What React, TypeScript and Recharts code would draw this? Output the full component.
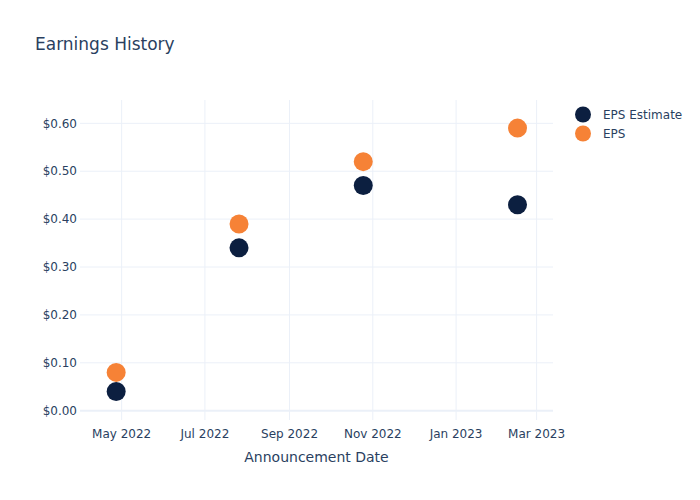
import React from "react";
import { ScatterChart, Scatter, XAxis, YAxis, ReferenceLine } from "recharts";

const dates = ["2022-04-27", "2022-07-26", "2022-10-25", "2023-02-15"];
const epsEstimate = [0.04, 0.34, 0.47, 0.43];
const eps = [0.08, 0.39, 0.52, 0.59];
const xTickDates = ["2022-05-01", "2022-07-01", "2022-09-01", "2022-11-01", "2023-01-01", "2023-03-01"];
const yTicks = [0, 0.1, 0.2, 0.3, 0.4, 0.5, 0.6];

const MONTHS = ["Jan", "Feb", "Mar", "Apr", "May", "Jun", "Jul", "Aug", "Sep", "Oct", "Nov", "Dec"];
const ts = (d: string) => Date.parse(d + "T00:00:00Z");
const fmtDate = (t: number) => {
  const d = new Date(t);
  return `${MONTHS[d.getUTCMonth()]} ${d.getUTCFullYear()}`;
};

const estimateData = dates.map((d, i) => ({ x: ts(d), y: epsEstimate[i] }));
const epsData = dates.map((d, i) => ({ x: ts(d), y: eps[i] }));
const xTicks = xTickDates.map(ts);
const xDomain = [ts("2022-03-31") + 12 * 3600 * 1000, ts("2023-03-13")];

const NAVY = "#0c1f40";
const ORANGE = "#f68236";
const TEXT = "#2a3f5f";
const GRID = "#ebf0f8";
const FONT = "'DejaVu Sans', Verdana, Arial, sans-serif";

const dot = (color: string) => (props: any) => (
  <circle cx={props.cx} cy={props.cy} r={9.5} fill={color} />
);

const legendItems = [
  { name: "EPS Estimate", color: NAVY },
  { name: "EPS", color: ORANGE },
];

function LegendBox() {
  return (
    <div style={{ position: "absolute", left: 573, top: 105, fontFamily: FONT, fontSize: 12, color: TEXT }}>
      {legendItems.map((it) => (
        <div key={it.name} style={{ display: "flex", alignItems: "center", height: 19 }}>
          <svg width={20} height={19}>
            <circle cx={10} cy={9.5} r={8} fill={it.color} />
          </svg>
          <span style={{ marginLeft: 10 }}>{it.name}</span>
        </div>
      ))}
    </div>
  );
}

export default function App() {
  return (
    <div style={{ position: "absolute", left: 0, top: 0, width: 700, height: 500, background: "#fff" }}>
      <div
        style={{
          position: "absolute",
          left: 35,
          top: 34,
          fontFamily: FONT,
          fontSize: 17,
          color: TEXT,
        }}
      >
        Earnings History
      </div>
      <ScatterChart width={700} height={500} margin={{ top: 100, right: 147, bottom: 0, left: 0 }}>
        <XAxis
          type="number"
          dataKey="x"
          domain={xDomain}
          ticks={xTicks}
          tickFormatter={fmtDate}
          allowDataOverflow
          height={80}
          axisLine={false}
          tickLine={false}
          tickSize={0}
          tickMargin={9}
          tick={{ fill: TEXT, fontSize: 12, fontFamily: FONT }}
          label={{ value: "Announcement Date", position: "insideBottom", offset: 38, fill: TEXT, fontSize: 14, fontFamily: FONT }}
        />
        <YAxis
          type="number"
          dataKey="y"
          domain={[-0.0194, 0.6487]}
          ticks={yTicks}
          allowDataOverflow
          width={80}
          axisLine={false}
          tickLine={false}
          tickSize={0}
          tickMargin={3}
          tickFormatter={(v: number) => `$${v.toFixed(2)}`}
          tick={{ fill: TEXT, fontSize: 12, fontFamily: FONT }}
        />
        {xTicks.map((t) => (
          <ReferenceLine key={"vx" + t} x={t} stroke={GRID} strokeWidth={1} />
        ))}
        {yTicks.map((v) => (
          <ReferenceLine key={"hy" + v} y={v} stroke={GRID} strokeWidth={v === 0 ? 2 : 1} />
        ))}
        <Scatter name="EPS Estimate" data={estimateData} fill={NAVY} shape={dot(NAVY)} isAnimationActive={false} />
        <Scatter name="EPS" data={epsData} fill={ORANGE} shape={dot(ORANGE)} isAnimationActive={false} />
      </ScatterChart>
      <LegendBox />
    </div>
  );
}
